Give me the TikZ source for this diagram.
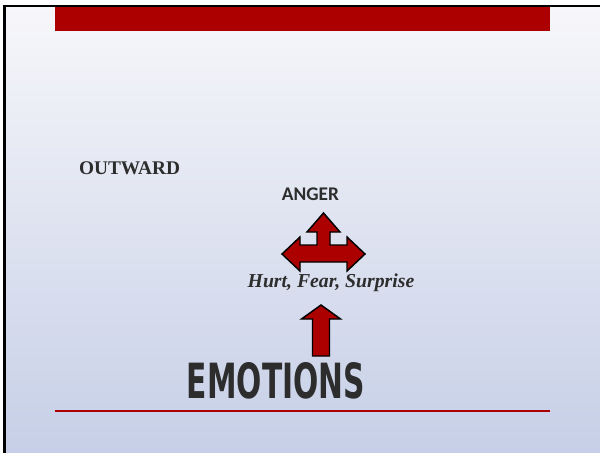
\documentclass[tikz,border=0pt]{standalone}
\usepackage{fontspec}
\setmainfont{Liberation Serif}
\newfontfamily\calibrifont{Carlito}
\newfontfamily\impactfont{DejaVu Sans Condensed}
\usepackage{tikz}
\usetikzlibrary{positioning, arrows.meta, calc}
\definecolor{slidered}{RGB}{172,0,0}
\definecolor{bgtop}{RGB}{247,247,250}
\definecolor{bgbottom}{RGB}{198,207,231}
\definecolor{textgray}{RGB}{45,45,45}

\begin{document}
\begin{tikzpicture}[x=0.75pt, y=-0.75pt, >=stealth,
		redarrow/.style={fill=slidered, draw=black, line width=1.1pt, line join=miter},
		slidetext/.style={anchor=base, text=textgray, inner sep=0pt}]
		
		\useasboundingbox (0,0) rectangle (600,453);
		
		% Draw background and frame
		\shade[top color=bgtop, bottom color=bgbottom] (4.7,5.8) rectangle (600,453);
		\draw[line width=1.9pt] (4.7,453) -- (4.7,5.8) -- (600,5.8);
		\fill[slidered] (55,7) rectangle (550,31);
		\draw[slidered, line width=1.5pt] (55,411) -- (550,411);
		
		% Add labels
		\node[slidetext, font=\bfseries\fontsize{14.5}{17}\selectfont] (outward) at (129.5,174) {OUTWARD};
		\node[slidetext, font=\calibrifont\bfseries\fontsize{14.5}{17}\selectfont] (anger) at (310.5,200) {ANGER};
		\node[slidetext, font=\bfseries\itshape\fontsize{14.8}{17}\selectfont] (feelings) at (331,287) {Hurt, Fear, Surprise};
		\node[slidetext] (emotions) at (276,398) {\resizebox{133.5pt}{27pt}{\impactfont\bfseries EMOTIONS}};
		
		% Draw three-way arrow
		\draw[redarrow] (323.5,213) -- (340,232) -- (330,232) -- (330,245) -- (347,245) -- (347,237)
			-- (365,254) -- (347,271) -- (347,262) -- (300,262) -- (300,271) -- (282,254)
			-- (300,237) -- (300,245) -- (317,245) -- (317,232) -- (307,232) -- cycle;
		
		% Draw up arrow
		\draw[redarrow] (321,305) -- (340.5,319) -- (329.5,319) -- (329.5,356) -- (312.5,356)
			-- (312.5,319) -- (301.5,319) -- cycle;
		
\end{tikzpicture}
\end{document}
